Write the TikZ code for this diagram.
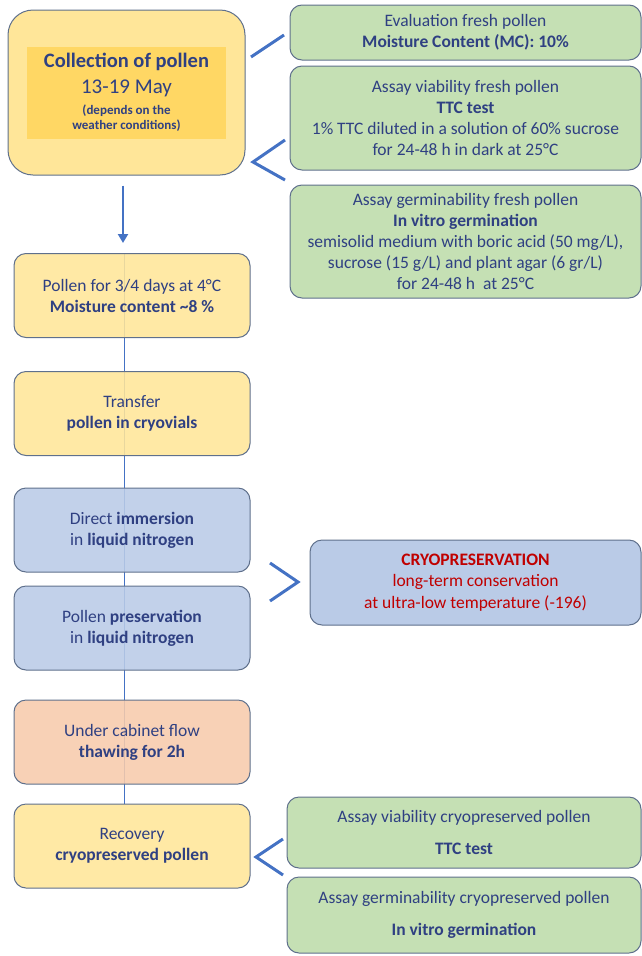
\documentclass[tikz,border=0pt]{standalone}
\usepackage{fontspec}
\setmainfont{Carlito}
\usetikzlibrary{positioning,backgrounds,arrows.meta,calc}
\definecolor{flowblue}{RGB}{68,114,196}
\definecolor{textnavy}{RGB}{47,64,130}
\definecolor{boxline}{RGB}{95,112,140}
\definecolor{pollenyellow}{RGB}{255,230,153}
\definecolor{darkyellow}{RGB}{255,215,100}
\definecolor{assaygreen}{RGB}{197,224,180}
\definecolor{nitroblue}{RGB}{186,203,231}
\definecolor{thawpeach}{RGB}{247,203,172}
\definecolor{cryored}{RGB}{192,0,0}

\begin{document}
\begin{tikzpicture}[
    x=1pt,y=-1pt,
    stepbox/.style={draw=boxline,line width=1pt,rounded corners=12pt,align=center,text=textnavy,
        minimum width=236pt,minimum height=84pt,fill opacity=0.88,text opacity=1,
        font=\fontsize{17.5}{21}\selectfont},
    assaybox/.style={draw=boxline,line width=1pt,rounded corners=12pt,align=center,text=textnavy,
        fill=assaygreen,minimum width=351pt,font=\fontsize{17.5}{21}\selectfont},
    chevron/.style={draw=flowblue,line width=3pt},
]
\useasboundingbox (0,0) rectangle (642,956);

% Collection of pollen
\node[draw=boxline,line width=1pt,fill=pollenyellow,rounded corners=25pt,minimum width=237pt,minimum height=165pt] (collection) at (126.5,92.5) {};
\node[fill=darkyellow,minimum width=199pt,minimum height=92pt,align=center,text=textnavy,font=\fontsize{20.5}{24}\selectfont] (season) at (126.5,92.5)
    {\bfseries Collection of pollen\\[2pt]
    \fontsize{21}{22}\selectfont 13-19 May\\[-3pt]
    \fontsize{13}{15}\selectfont\bfseries (depends on the\\[-9pt]
    \fontsize{13}{15}\selectfont\bfseries weather conditions)};

% Fresh pollen tests
\node[assaybox,minimum height=55pt] (evaluation) at (465.5,32.5) {Evaluation fresh pollen\\\textbf{Moisture Content (MC): 10\%}};
\node[assaybox,minimum height=104pt] (viability) at (465.5,118) {Assay viability fresh pollen\\\textbf{TTC test}\\1\% TTC diluted in a solution of 60\% sucrose\\for 24-48 h in dark at 25°C};
\node[assaybox,minimum height=113pt] (germinability) at (465.5,241.5) {Assay germinability fresh pollen\\\textbf{In vitro germination}\\semisolid medium with boric acid (50 mg/L),\\sucrose (15 g/L) and plant agar (6 gr/L)\\for 24-48 h~~at 25°C};

% Main steps
\node[stepbox,fill=pollenyellow] (storage) at (132,295.5) {Pollen for 3/4 days at 4°C\\\textbf{Moisture content \textasciitilde8 \%}};
\node[stepbox,fill=pollenyellow] (transfer) at (132,413.5) {Transfer\\\textbf{pollen in cryovials}};
\node[stepbox,fill=nitroblue] (immersion) at (132,530) {Direct \textbf{immersion}\\in \textbf{liquid nitrogen}};
\node[stepbox,fill=nitroblue] (preservation) at (132,628) {Pollen \textbf{preservation}\\in \textbf{liquid nitrogen}};
\node[stepbox,fill=thawpeach] (thawing) at (132,742) {Under cabinet flow\\\textbf{thawing for 2h}};
\node[stepbox,fill=pollenyellow] (recovery) at (132,846) {Recovery\\\textbf{cryopreserved pollen}};

% Cryopreservation
\node[draw=boxline,line width=1pt,fill=nitroblue,rounded corners=12pt,minimum width=331pt,minimum height=85pt,align=center,text=cryored,font=\fontsize{17.5}{21.5}\selectfont] (cryo) at (475.5,582.5) {\textbf{CRYOPRESERVATION}\\long-term conservation\\at ultra-low temperature (-196)};

% Cryopreserved pollen tests
\node[assaybox,minimum width=354pt,minimum height=71pt,font=\fontsize{17.5}{32}\selectfont] (cryoviability) at (464,832.5) {Assay viability cryopreserved pollen\\\textbf{TTC test}};
\node[assaybox,minimum width=354pt,minimum height=76pt,font=\fontsize{17.5}{32}\selectfont] (cryogerm) at (464,915) {Assay germinability cryopreserved pollen\\\textbf{In vitro germination}};

% Flow
\draw[flowblue,line width=2.5pt,-{Triangle[length=9pt,width=10pt]},shorten <=10pt,shorten >=10pt] ([xshift=-3.5pt]collection.south) -- ([xshift=-9pt]storage.north);
\begin{scope}[on background layer]
\draw[flowblue,line width=0.8pt] ([xshift=-8pt]storage.north) -- ([xshift=-8pt]recovery.north);
\end{scope}

% Chevrons
\coordinate (evaltip) at (251,57);
\draw[chevron] (evaltip) -- ++(33,-22);
\coordinate (freshtip) at (253,162);
\draw[chevron] ($(freshtip)+(32,-22)$) -- (freshtip) -- ++(32,18);
\coordinate (cryotip) at (298,582);
\draw[chevron] ($(cryotip)+(-28,-19)$) -- (cryotip) -- ++(-28,19);
\coordinate (recoverytip) at (256,857);
\draw[chevron] ($(recoverytip)+(27,-18)$) -- (recoverytip) -- ++(27,18);

\end{tikzpicture}
\end{document}
